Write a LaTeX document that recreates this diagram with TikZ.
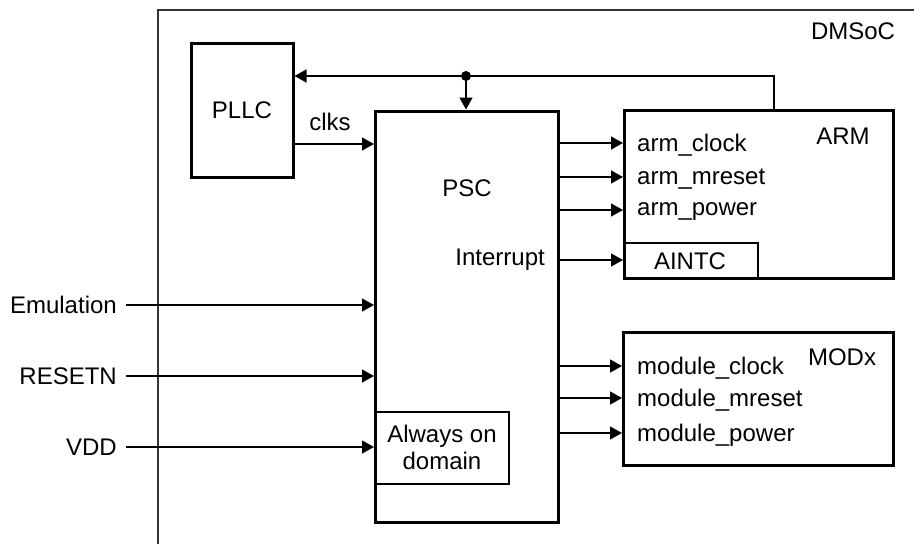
\documentclass[tikz,border=0pt]{standalone}
\usepackage{fontspec}
\setmainfont{Liberation Sans}
\usetikzlibrary{arrows.meta}
\begin{document}
\begin{tikzpicture}[x=1pt,y=-1pt,
  txt/.style={inner sep=0pt,font=\fontsize{24}{27}\selectfont},
  blk/.style={draw,line width=3pt,inner sep=0pt},
  sub/.style={draw,line width=2pt,inner sep=0pt},
  sig/.style={line width=1.3pt,-{Triangle[length=12pt,width=13pt]}},
  wire/.style={line width=1.3pt}]
\useasboundingbox (0,0) rectangle (914,544);
% outer frame
\draw[line width=1.3pt,black!80] (158,550) -- (158,10) -- (920,10);
\node[txt] (dmsoc) at (853,31) {DMSoC};
% blocks
\node[blk,minimum width=102pt,minimum height=134pt] (pllc) at (242,110) {};
\node[txt] at (242,110) {PLLC};
\node[blk,minimum width=183pt,minimum height=411pt] (psc) at (466.5,316.5) {};
\node[txt] at (467,188) {PSC};
\node[blk,minimum width=269pt,minimum height=168pt] (arm) at (758.5,194) {};
\node[txt] at (843,136) {ARM};
\node[sub,minimum width=134pt,minimum height=35pt] (aintc) at (691,260.5) {};
\node[txt] at (690,261) {AINTC};
\node[blk,minimum width=270pt,minimum height=133pt] (modx) at (758,398.5) {};
\node[txt] at (842,357) {MODx};
\node[sub,minimum width=134pt,minimum height=72pt] (aod) at (442,448) {};
\node[txt,align=center] at (442,447) {Always on\\domain};
% feedback
\coordinate (dot) at (466,76);
\coordinate (armtop) at (774,110);
\draw[wire] (armtop) -- (774,76) -- (dot);
\draw[sig] (dot) -- (pllc.east |- dot);
\draw[sig] (dot) -- (466,109.5);
\fill (dot) circle (5pt);
% clks
\draw[sig] (293,144) -- (374,144);
\node[txt] at (330,122) {clks};
% ARM signals
\foreach \y/\t in {143/arm\_clock,177/arm\_mreset,210/arm\_power}{
  \draw[sig] (558,\y) -- (623,\y);
  \node[txt,anchor=west] at (637,\y+2) {\t};
}
\draw[sig] (558,260) -- (623,260);
\node[txt,anchor=east] at (545,260) {Interrupt};
% MODx signals
\foreach \y/\t in {366/module\_clock,398/module\_mreset,433/module\_power}{
  \draw[sig] (558,\y) -- (622,\y);
  \node[txt,anchor=west] at (637,\y+2) {\t};
}
% inputs
\foreach \y/\t/\n in {305/Emulation/emu,376/RESETN/rst,447/VDD/vdd}{
  \node[txt,anchor=east] (\n) at (117,\y) {\t};
  \draw[sig] (126,\y) -- (374,\y);
}
\end{tikzpicture}
\end{document}
